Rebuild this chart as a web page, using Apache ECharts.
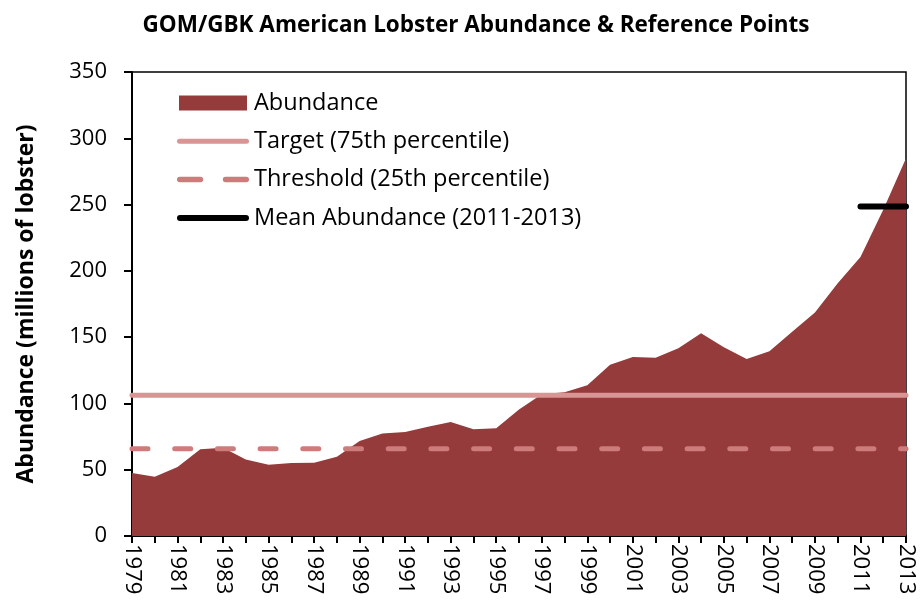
<!DOCTYPE html>
<html>
<head>
<meta charset="utf-8">
<script src="https://cdn.jsdelivr.net/npm/echarts@6/dist/echarts.min.js"></script>
<style>html,body{margin:0;padding:0;background:#fff}#c{width:924px;height:609px}</style>
</head>
<body>
<div id="c"></div>
<script>
const years = ['1979','1980','1981','1982','1983','1984','1985','1986','1987','1988','1989','1990','1991','1992','1993','1994','1995','1996','1997','1998','1999','2000','2001','2002','2003','2004','2005','2006','2007','2008','2009','2010','2011','2012','2013'];
const abundance = [47.5,44.7,52,65.5,66.5,57.7,53.8,55,55.3,59.8,71.6,77.4,78.4,82.5,86,80.5,81.2,95.5,107,108.4,113.7,129.2,135,134.5,141.6,152.9,142.3,133.5,139.3,154.1,168.5,190.6,210.5,246,285];
const targetValue = 106.2;
const thresholdValue = 65.8;
const meanValue = 248.6;
const meanYears = ['2011','2012','2013'];
const yTicks = {min:0, max:350, interval:50};

const target = years.map(() => targetValue);
const threshold = years.map(() => thresholdValue);
const mean = years.map(y => meanYears.includes(y) ? meanValue : null);

const font = '"Open Sans", "Liberation Sans", sans-serif';
const iconRect = 'path://M0,0 L68,0 L68,15 L0,15 Z';
const iconLine = 'path://M2.5,0 L69.5,0 A2.5,2.5 0 0 1 69.5,5 L2.5,5 A2.5,2.5 0 0 1 2.5,0 Z';
const iconDash = 'path://M2.5,0 L21.5,0 A2.5,2.5 0 0 1 21.5,5 L2.5,5 A2.5,2.5 0 0 1 2.5,0 Z M44.5,0 L63.5,0 A2.5,2.5 0 0 1 63.5,5 L44.5,5 A2.5,2.5 0 0 1 44.5,0 Z';
const iconMean = 'path://M3,0 L69,0 A3,3 0 0 1 69,6 L3,6 A3,3 0 0 1 3,0 Z';

const chart = echarts.init(document.getElementById('c'), null, {renderer:'canvas'});
chart.setOption({
  animation:false,
  backgroundColor:'#fff',
  title:{
    text:'GOM/GBK American Lobster Abundance & Reference Points',
    left:471, top:9, textAlign:'center',
    textStyle:{fontFamily:font, fontWeight:'bold', fontSize:22.5, color:'#000'}
  },
  legend:{
    orient:'vertical', left:177, top:91, padding:0, itemGap:14.3,
    itemWidth:72, itemHeight:15,
    itemStyle:{borderWidth:0},
    textStyle:{fontFamily:font, fontSize:23.5, lineHeight:23, color:'#000'},
    data:[
      {name:'Abundance', icon:iconRect},
      {name:'Target (75th percentile)', icon:iconLine},
      {name:'Threshold (25th percentile)', icon:iconDash},
      {name:'Mean Abundance (2011-2013)', icon:iconMean}
    ]
  },
  grid:{left:132, right:18, top:72, bottom:73, show:true, borderColor:'#000', borderWidth:1.5, containLabel:false},
  xAxis:{
    type:'category', data:years, boundaryGap:false,
    axisLine:{lineStyle:{color:'#000', width:2}},
    axisTick:{show:true, interval:0, length:7, lineStyle:{color:'#000', width:2}},
    axisLabel:{interval:1, rotate:-90, fontFamily:font, fontSize:22, color:'#000', margin:8}
  },
  yAxis:{
    type:'value', min:yTicks.min, max:yTicks.max, interval:yTicks.interval,
    name:'Abundance (millions of lobster)', nameLocation:'middle', nameGap:94,
    nameTextStyle:{fontFamily:font, fontWeight:'bold', fontSize:23, color:'#000'},
    axisLine:{show:true, lineStyle:{color:'#000', width:2}},
    axisTick:{show:true, length:8, lineStyle:{color:'#000', width:2}},
    splitLine:{show:false},
    axisLabel:{fontFamily:font, fontSize:22, color:'#000', margin:25}
  },
  series:[
    {name:'Abundance', type:'line', data:abundance, showSymbol:false, symbol:'none',
     lineStyle:{width:0, color:'#953B3B'}, itemStyle:{color:'#953B3B', borderWidth:0},
     areaStyle:{color:'#953B3B', opacity:1}, z:1},
    {name:'Target (75th percentile)', type:'line', data:target, showSymbol:false, symbol:'none',
     itemStyle:{color:'#D99594', borderWidth:0}, lineStyle:{color:'#D99594', width:5, cap:'round'}, z:3},
    {name:'Threshold (25th percentile)', type:'line', data:threshold, showSymbol:false, symbol:'none',
     itemStyle:{color:'#CD7B7B', borderWidth:0}, lineStyle:{color:'#CD7B7B', width:5, type:[16,26.7], cap:'round'}, z:3},
    {name:'Mean Abundance (2011-2013)', type:'line', data:mean, showSymbol:false, symbol:'none',
     itemStyle:{color:'#000', borderWidth:0}, lineStyle:{color:'#000', width:6, cap:'round'}, z:4}
  ]
});
</script>
</body>
</html>
